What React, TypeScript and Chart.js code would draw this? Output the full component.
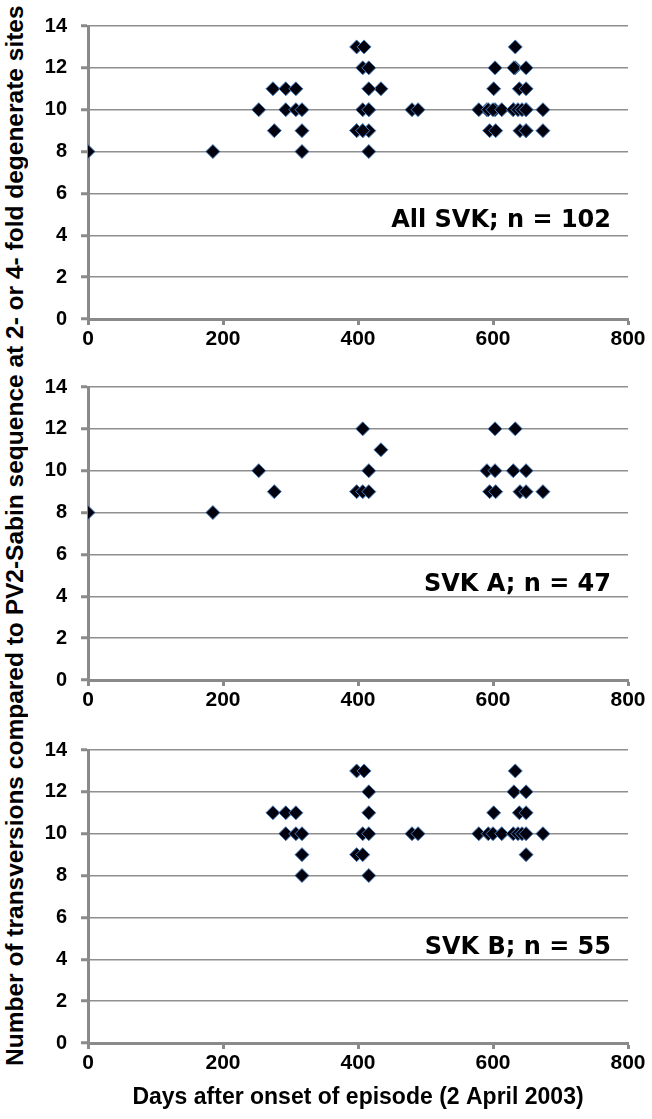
import React, { useEffect, useRef } from "react";
import { Chart, registerables } from "chart.js";

Chart.register(...registerables);

// ---- data ----
const xTickValues = [0, 200, 400, 600, 800];
const yTickValues = [0, 2, 4, 6, 8, 10, 12, 14];

const svkADays = [0, 185, 253, 276, 398, 407, 416, 416, 407, 434, 591, 603, 630, 649, 595, 604, 640, 649, 674, 603, 633];
const svkAValues = [8, 8, 10, 9, 9, 9, 9, 10, 12, 11, 10, 10, 10, 10, 9, 9, 9, 9, 9, 12, 12];

const svkBDays = [274, 293, 308, 293, 308, 317, 317, 317, 398, 409, 416, 416, 407, 416, 398, 407, 416, 480, 489, 579, 593, 600, 613, 630, 637, 643, 649, 674, 601, 639, 649, 631, 649, 633, 649];
const svkBValues = [11, 11, 11, 10, 10, 10, 9, 8, 13, 13, 12, 11, 10, 10, 9, 9, 8, 10, 10, 10, 10, 10, 10, 10, 10, 10, 10, 10, 11, 11, 11, 12, 12, 13, 9];

const panelLabels = ["All SVK; n = 102", "SVK A; n = 47", "SVK B; n = 55"];
const yAxisTitle = "Number of transversions compared to PV2-Sabin sequence at 2- or 4- fold degenerate sites";
const xAxisTitle = "Days after onset of episode (2 April 2003)";

const toPoints = (days: number[], values: number[]) => days.map((d, i) => ({ x: d, y: values[i] }));

const allDays = [...svkADays, ...svkBDays];
const allValues = [...svkAValues, ...svkBValues];

const panels = [
  { top: 0, height: 361, days: allDays, values: allValues, label: panelLabels[0], labelY: 4.7, title: false },
  { top: 361, height: 363, days: svkADays, values: svkAValues, label: panelLabels[1], labelY: 4.56, title: false },
  { top: 724, height: 395, days: svkBDays, values: svkBValues, label: panelLabels[2], labelY: 4.56, title: true },
];

const AXIS = "#8a8a8a";
const GRID = "#8f8f8f";

function Panel(props: { cfg: typeof panels[number] }) {
  const ref = useRef<HTMLCanvasElement | null>(null);
  const { cfg } = props;
  useEffect(() => {
    if (!ref.current) return;
    const labelPlugin = {
      id: "panelLabel",
      afterDatasetsDraw(chart: any) {
        const ctx = chart.ctx;
        ctx.save();
        ctx.font = 'bold 24px "DejaVu Sans"';
        ctx.fillStyle = "#000";
        ctx.textAlign = "right";
        ctx.textBaseline = "middle";
        ctx.fillText(cfg.label, chart.chartArea.right - 17, chart.scales.y.getPixelForValue(cfg.labelY));
        ctx.restore();
      },
    };
    const chart = new Chart(ref.current, {
      type: "scatter",
      data: {
        datasets: [
          {
            data: toPoints(cfg.days, cfg.values),
            pointStyle: "rectRot",
            pointRadius: 7,
            pointHoverRadius: 7,
            backgroundColor: "#02020e",
            borderColor: "#4a7ebb",
            borderWidth: 1,
          },
        ],
      },
      options: {
        responsive: false,
        animation: false,
        events: [],
        layout: { padding: { top: 18, right: 24, left: 0, bottom: 0 } },
        plugins: { legend: { display: false }, tooltip: { enabled: false } },
        scales: {
          x: {
            type: "linear",
            min: 0,
            max: 800,
            afterBuildTicks: (s: any) => {
              s.ticks = xTickValues.map((v) => ({ value: v }));
            },
            afterFit: (s: any) => {
              s.height = cfg.height - 18 - 301;
            },
            grid: { drawOnChartArea: false, drawTicks: true, tickLength: 6, tickWidth: 3, tickColor: AXIS, color: AXIS },
            border: { display: true, width: 3, color: AXIS },
            ticks: {
              color: "#000",
              padding: 2,
              maxRotation: 0,
              font: { family: '"Liberation Sans"', weight: "bold", size: 21 },
            },
            title: {
              display: cfg.title,
              text: xAxisTitle,
              color: "#000",
              font: { family: '"Liberation Sans"', weight: "bold", size: 23 },
              padding: { top: 0, bottom: 8 },
            },
          },
          y: {
            type: "linear",
            min: 0,
            max: 14,
            afterBuildTicks: (s: any) => {
              s.ticks = yTickValues.map((v) => ({ value: v }));
            },
            afterFit: (s: any) => {
              s.width = 58;
            },
            grid: { drawOnChartArea: true, drawTicks: true, tickLength: 7, lineWidth: 1.5, tickWidth: 3, color: GRID, tickColor: AXIS },
            border: { display: true, width: 3, color: AXIS },
            ticks: {
              color: "#000",
              padding: 14,
              font: { family: '"Liberation Sans"', weight: "bold", size: 20 },
            },
          },
        },
      },
      plugins: [labelPlugin],
    });
    return () => chart.destroy();
  }, []);
  return (
    <canvas
      ref={ref}
      width={622}
      height={cfg.height}
      style={{ position: "absolute", left: 30, top: cfg.top, width: 622, height: cfg.height }}
    />
  );
}

export default function App() {
  return (
    <div style={{ position: "absolute", left: 0, top: 0, width: 652, height: 1119, background: "#fff", overflow: "hidden" }}>
      <div
        style={{
          position: "absolute",
          left: 1,
          top: 3,
          width: 30,
          height: 1065,
          writingMode: "vertical-rl",
          transform: "rotate(180deg)",
          textAlign: "center",
          whiteSpace: "nowrap",
          lineHeight: "30px",
          font: 'bold 24.5px "Liberation Sans"',
          color: "#000",
        }}
      >
        {yAxisTitle}
      </div>
      {panels.map((p, i) => (
        <Panel key={i} cfg={p} />
      ))}
    </div>
  );
}
